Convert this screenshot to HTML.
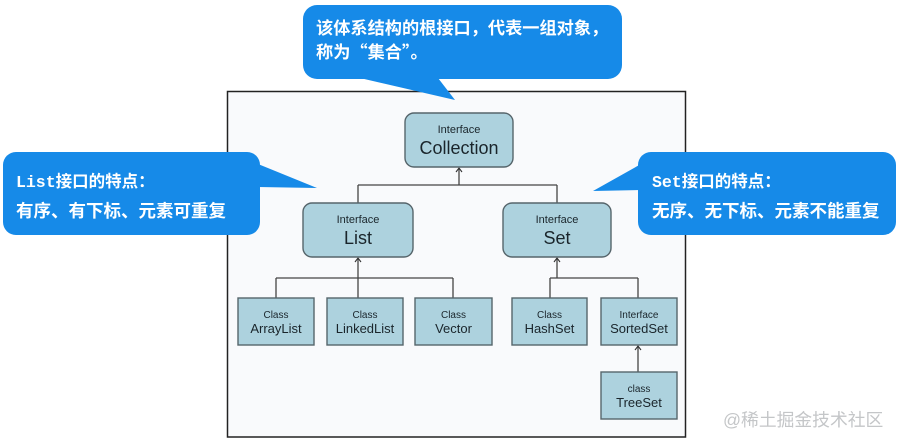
<!DOCTYPE html>
<html>
<head>
<meta charset="utf-8">
<style>
html,body{margin:0;padding:0;background:#ffffff;}
body{width:900px;height:445px;overflow:hidden;}
svg{display:block;}
.cjk{font-family:"Liberation Sans","Noto Sans CJK SC",sans-serif;font-weight:bold;fill:#ffffff;}
.mono{font-family:"Liberation Mono","Noto Sans CJK SC",monospace;font-weight:bold;fill:#ffffff;}
.lbl{font-family:"Liberation Sans",Arial,sans-serif;fill:#1a252b;text-anchor:middle;}
</style>
</head>
<body>
<svg width="900" height="445" viewBox="0 0 900 445" xmlns="http://www.w3.org/2000/svg">
  <!-- diagram frame -->
  <rect x="227.5" y="91.5" width="458" height="345.5" fill="#f9fafc" stroke="#222" stroke-width="1.5"/>

  <!-- connectors -->
  <g stroke="#444" stroke-width="1.3" fill="none">
    <line x1="358" y1="185" x2="557" y2="185"/>
    <line x1="358" y1="185" x2="358" y2="203"/>
    <line x1="557" y1="185" x2="557" y2="203"/>
    <line x1="459" y1="185" x2="459" y2="168"/>
    <line x1="276" y1="278" x2="453" y2="278"/>
    <line x1="276" y1="278" x2="276" y2="298"/>
    <line x1="453" y1="278" x2="453" y2="298"/>
    <line x1="358" y1="298" x2="358" y2="258"/>
    <line x1="550" y1="278" x2="638" y2="278"/>
    <line x1="550" y1="278" x2="550" y2="298"/>
    <line x1="638" y1="278" x2="638" y2="298"/>
    <line x1="557" y1="278" x2="557" y2="258"/>
    <line x1="638" y1="372" x2="638" y2="346"/>
  </g>
  <g stroke="#333" stroke-width="1.1" fill="none">
    <polyline points="456,172 459,168 462,172"/>
    <polyline points="355,262 358,258 361,262"/>
    <polyline points="554,262 557,258 560,262"/>
    <polyline points="635,350 638,346 641,350"/>
  </g>

  <!-- boxes -->
  <g fill="#add2de" stroke="#56656b" stroke-width="1.4">
    <rect x="405" y="113" width="108" height="54" rx="9"/>
    <rect x="303" y="203" width="110" height="54" rx="9"/>
    <rect x="503" y="203" width="108" height="54" rx="9"/>
    <rect x="238" y="298" width="76" height="47"/>
    <rect x="327" y="298" width="76" height="47"/>
    <rect x="415" y="298" width="77" height="47"/>
    <rect x="512" y="298" width="75" height="47"/>
    <rect x="601" y="298" width="76" height="47"/>
    <rect x="601" y="372" width="76" height="47"/>
  </g>

  <!-- box labels -->
  <text class="lbl" x="459" y="133" font-size="11">Interface</text>
  <text class="lbl" x="459" y="154" font-size="18">Collection</text>

  <text class="lbl" x="358" y="223" font-size="11">Interface</text>
  <text class="lbl" x="358" y="244" font-size="18">List</text>

  <text class="lbl" x="557" y="223" font-size="11">Interface</text>
  <text class="lbl" x="557" y="244" font-size="18">Set</text>

  <text class="lbl" x="276" y="318" font-size="10">Class</text>
  <text class="lbl" x="276" y="333" font-size="13">ArrayList</text>

  <text class="lbl" x="365" y="318" font-size="10">Class</text>
  <text class="lbl" x="365" y="333" font-size="13">LinkedList</text>

  <text class="lbl" x="453.5" y="318" font-size="10">Class</text>
  <text class="lbl" x="453.5" y="333" font-size="13">Vector</text>

  <text class="lbl" x="549.5" y="318" font-size="10">Class</text>
  <text class="lbl" x="549.5" y="333" font-size="13">HashSet</text>

  <text class="lbl" x="639" y="318" font-size="10">Interface</text>
  <text class="lbl" x="639" y="333" font-size="13">SortedSet</text>

  <text class="lbl" x="639" y="392" font-size="10">class</text>
  <text class="lbl" x="639" y="407" font-size="13">TreeSet</text>

  <!-- callouts -->
  <g fill="#168ae8">
    <rect x="303" y="5" width="319" height="74" rx="14"/>
    <polygon points="360,78 455,100 438,78"/>
    <rect x="3" y="152" width="257" height="83" rx="13"/>
    <polygon points="258,164 317,188 258,187"/>
    <rect x="638" y="152" width="258" height="83" rx="13"/>
    <polygon points="641,164 593,191 641,190"/>
  </g>

  <text class="cjk" x="316" y="34" font-size="17.2">该体系结构的根接口，代表一组对象，</text>
  <text class="cjk" x="316" y="58" font-size="17.2">称为<tspan font-family="'Noto Sans CJK SC',sans-serif">“集合”</tspan>。</text>

  <text class="mono" x="16" y="187" font-size="16.5">List接口的特点：</text>
  <text class="cjk" x="16" y="217" font-size="17.5">有序、有下标、元素可重复</text>

  <text class="mono" x="652" y="187" font-size="16.5">Set接口的特点：</text>
  <text class="cjk" x="652" y="217" font-size="17.5">无序、无下标、元素不能重复</text>

  <!-- watermark -->
  <text x="723" y="426" font-family="'Liberation Sans','Noto Sans CJK SC',sans-serif" font-size="17.8" fill="#c4c6c8">@稀土掘金技术社区</text>
</svg>
</body>
</html>
